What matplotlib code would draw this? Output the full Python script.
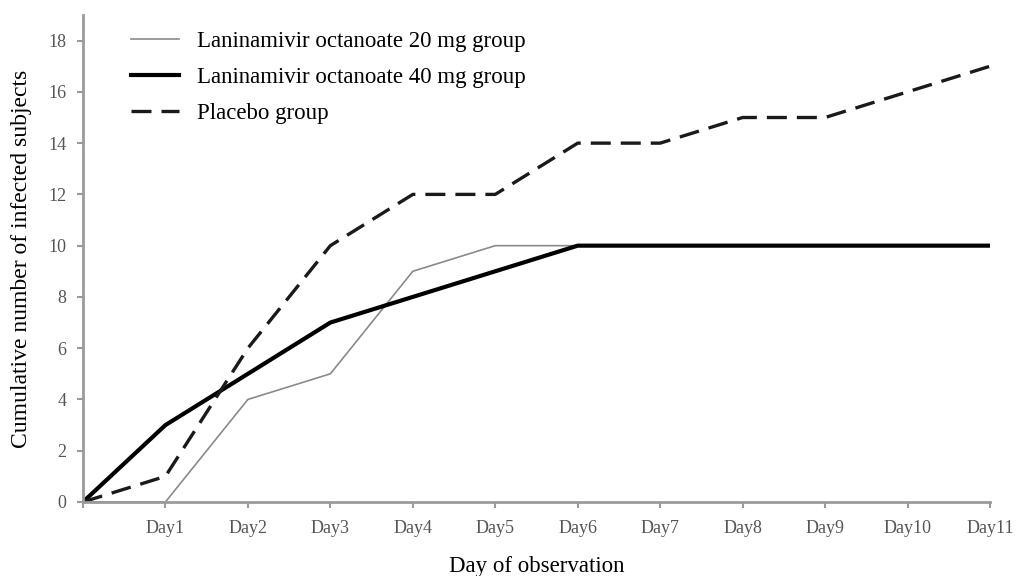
import matplotlib
matplotlib.use("Agg")
import matplotlib.pyplot as plt

days = list(range(12))
day_labels = [""] + ["Day%d" % d for d in range(1, 12)]
lo20 = [0, 0, 4, 5, 9, 10, 10, 10, 10, 10, 10, 10]
lo40 = [0, 3, 5, 7, 8, 9, 10, 10, 10, 10, 10, 10]
placebo = [0, 1, 6, 10, 12, 12, 14, 14, 15, 15, 16, 17]

plt.rcParams['font.family'] = ['Liberation Serif', 'DejaVu Serif']

fig = plt.figure(figsize=(10.18, 5.76), dpi=100)
ax = fig.add_axes([0.0815, 0.1285, 0.891, 0.8455])

ax.plot(days, lo20, color='#8a8a8a', lw=1.2, label='Laninamivir octanoate 20 mg group')
ax.plot(days, lo40, color='black', lw=3.0, label='Laninamivir octanoate 40 mg group')
ax.plot(days, placebo, color='#1a1a1a', lw=2.4, dashes=(6, 3), label='Placebo group')

ax.set_xlim(0, 11)
ax.set_ylim(0, 19)
ax.set_xticks(days)
ax.set_xticklabels(day_labels)
ax.set_yticks(range(0, 19, 2))

for s in ['top', 'right']:
    ax.spines[s].set_visible(False)
for s in ['left', 'bottom']:
    ax.spines[s].set_color('#9a9a9a')
    ax.spines[s].set_linewidth(2)
ax.tick_params(colors='#9a9a9a', labelcolor='#555555', labelsize=13, length=4, width=1.5)
ax.tick_params(axis='x', pad=9)
ax.tick_params(axis='y', pad=8)

ax.set_ylabel('Cumulative number of infected subjects', fontsize=17, labelpad=12)
ax.set_xlabel('Day of observation', fontsize=16.5, labelpad=14)

ax.legend(loc='upper left', bbox_to_anchor=(0.03, 1.01), frameon=False, fontsize=16.5,
          handlelength=2.1, handletextpad=0.8, labelspacing=0.66)

fig.savefig('out.png', dpi=100)
